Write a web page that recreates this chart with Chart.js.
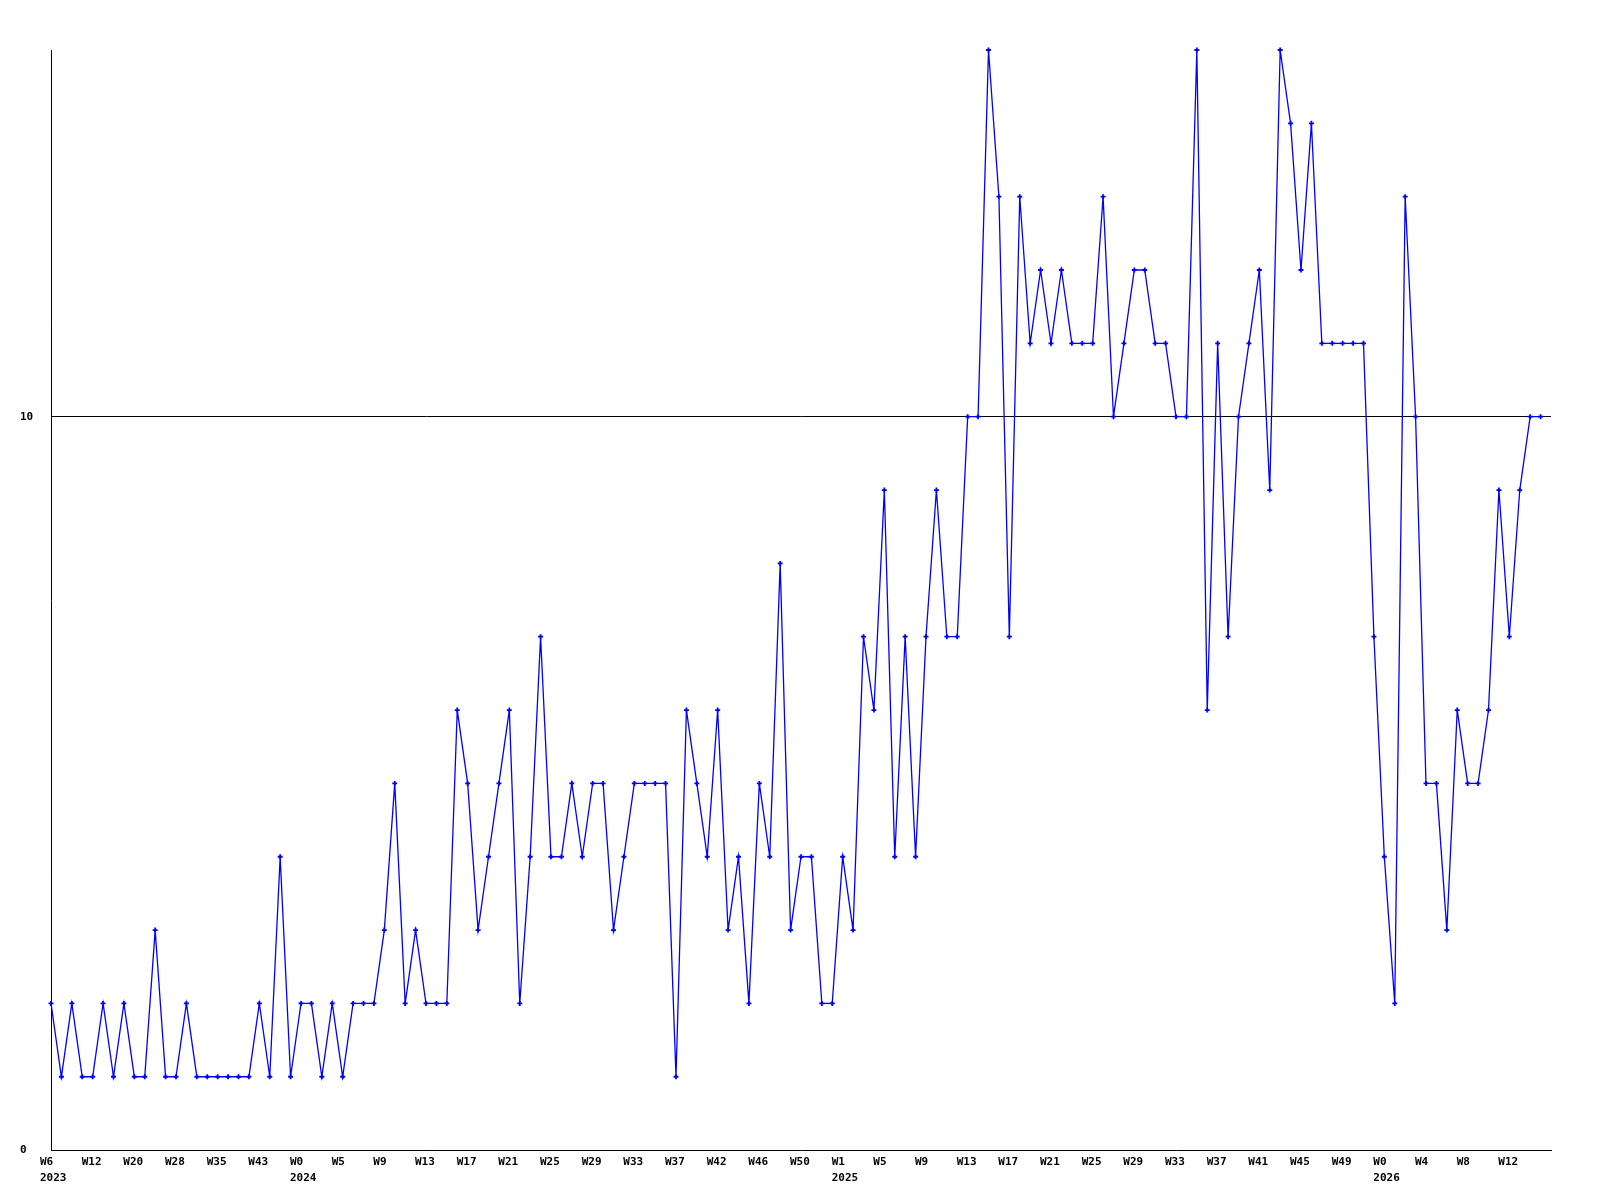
<!DOCTYPE html>
<html>
<head>
<meta charset="utf-8">
<script src="https://cdn.jsdelivr.net/npm/chart.js@4/dist/chart.umd.min.js"></script>
<style>
  body { margin: 0; background: #fff; }
  #wrap { width: 1600px; height: 1200px; }
</style>
</head>
<body>
<div id="wrap"><canvas id="chart" width="1600" height="1200"></canvas></div>
<script>
// weekly values, one per point
var valores = [
    2, 1, 2, 1, 1, 2, 1, 2, 1, 1,
    3, 1, 1, 2, 1, 1, 1, 1, 1, 1,
    2, 1, 4, 1, 2, 2, 1, 2, 1, 2,
    2, 2, 3, 5, 2, 3, 2, 2, 2, 6,
    5, 3, 4, 5, 6, 2, 4, 7, 4, 4,
    5, 4, 5, 5, 3, 4, 5, 5, 5, 5,
    1, 6, 5, 4, 6, 3, 4, 2, 5, 4,
    8, 3, 4, 4, 2, 2, 4, 3, 7, 6,
    9, 4, 7, 4, 7, 9, 7, 7, 10, 10,
    15, 13, 7, 13, 11, 12, 11, 12, 11, 11,
    11, 13, 10, 11, 12, 12, 11, 11, 10, 10,
    15, 6, 11, 7, 10, 11, 12, 9, 15, 14,
    12, 14, 11, 11, 11, 11, 11, 7, 4, 2,
    13, 10, 5, 5, 3, 6, 5, 5, 6, 9,
    7, 9, 10, 10
];

// labels shown every 4th point
var semanas = [
    'W6', 'W12', 'W20', 'W28', 'W35', 'W43',
    'W0', 'W5', 'W9', 'W13', 'W17', 'W21', 'W25', 'W29', 'W33', 'W37', 'W42', 'W46', 'W50',
    'W1', 'W5', 'W9', 'W13', 'W17', 'W21', 'W25', 'W29', 'W33', 'W37', 'W41', 'W45', 'W49',
    'W0', 'W4', 'W8', 'W12'
];
var anios = ['2023', '2024', '2025', '2026'];
var aniosEnTick = [0, 6, 19, 32];   // which shown label gets the year under it

var yTicks = [0, 10];

var etiquetas = [];
for (var i = 0; i <= valores.length; i++) {
    etiquetas.push(String(i));
}

var fuente = { family: '"DejaVu Sans Mono", monospace', size: 11, weight: 'bold', lineHeight: 1.45 };

var datos = {
    type: 'line',
    data: {
        labels: etiquetas,
        datasets: [{
            data: valores,
            borderColor: '#0000ff',
            backgroundColor: '#0000ff',
            borderWidth: 1.3,
            pointStyle: 'cross',
            pointRadius: 2.5,
            pointBorderWidth: 1.8,
            pointBorderColor: '#0000ff',
            tension: 0,
            clip: false
        }]
    },
    options: {
        responsive: false,
        animation: false,
        layout: { padding: { left: 20, right: 49, top: 50, bottom: 10 } },
        plugins: {
            legend: { display: false },
            tooltip: { enabled: false },
            title: { display: false }
        },
        scales: {
            x: {
                type: 'category',
                offset: false,
                grid: { display: false, drawTicks: false },
                border: { display: true, color: '#000', width: 1 },
                ticks: {
                    autoSkip: false,
                    maxRotation: 0,
                    minRotation: 0,
                    align: 'start',
                    labelOffset: -11,
                    padding: 4,
                    color: '#000',
                    font: fuente,
                    callback: function (value, index) {
                        if (index % 4 !== 0) return '';
                        var k = index / 4;
                        if (k >= semanas.length) return '';
                        var y = aniosEnTick.indexOf(k);
                        if (y >= 0) return [semanas[k], anios[y]];
                        return semanas[k];
                    }
                }
            },
            y: {
                min: 0,
                max: 15,
                afterBuildTicks: function (scale) {
                    scale.ticks = yTicks.map(function (v) { return { value: v }; });
                },
                afterFit: function (scale) {
                    scale.width = 31;
                },
                grid: {
                    drawTicks: false,
                    color: function (ctx) {
                        return ctx.tick && ctx.tick.value === 10 ? '#000' : 'rgba(0,0,0,0)';
                    },
                    lineWidth: 1
                },
                border: { display: true, color: '#000', width: 1 },
                ticks: {
                    crossAlign: 'far',
                    padding: 6,
                    color: '#000',
                    font: fuente
                }
            }
        }
    }
};

var canvas = document.getElementById('chart').getContext('2d');
window.grafico = new Chart(canvas, datos);
</script>
</body>
</html>
